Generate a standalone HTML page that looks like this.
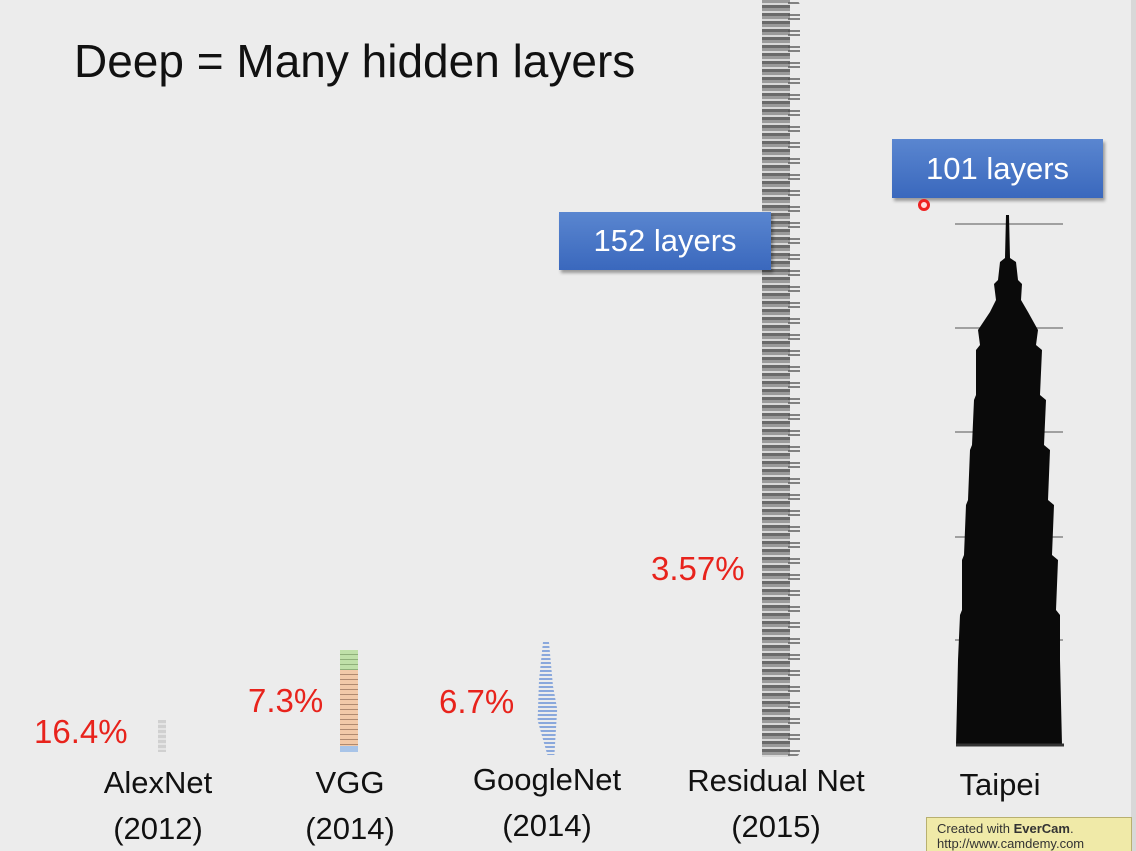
<!DOCTYPE html>
<html><head><meta charset="utf-8">
<style>
body{margin:0;}
#slide{position:relative;width:1136px;height:851px;background:#ececec;overflow:hidden;font-family:"Liberation Sans",sans-serif;}
.t{position:absolute;white-space:nowrap;}
.lbl{font-size:31px;color:#111;text-align:center;line-height:46px;}
.err{font-size:33px;color:#e8231c;}
.box{position:absolute;background:linear-gradient(#5a86d0,#3a68bd);color:#fff;font-size:31px;text-align:center;box-shadow:2px 3px 3px rgba(0,0,0,.35);}
</style></head>
<body>
<div id="slide">
  <div class="t" style="left:74px;top:34px;font-size:46px;color:#111;">Deep = Many hidden layers</div>

  <div style="position:absolute;left:1131px;top:0;width:5px;height:851px;background:#d8d8d8;"></div>

  <div class="t lbl" style="left:78px;top:760px;width:160px;">AlexNet<br>(2012)</div>
  <div class="t lbl" style="left:270px;top:760px;width:160px;">VGG<br>(2014)</div>
  <div class="t lbl" style="left:452px;top:757px;width:190px;">GoogleNet<br>(2014)</div>
  <div class="t lbl" style="left:666px;top:758px;width:220px;">Residual Net<br>(2015)</div>
  <div class="t lbl" style="left:930px;top:762px;width:140px;">Taipei</div>

  <div class="t err" style="left:34px;top:713px;">16.4%</div>
  <div class="t err" style="left:248px;top:682px;">7.3%</div>
  <div class="t err" style="left:439px;top:683px;">6.7%</div>
  <div class="t err" style="left:651px;top:550px;">3.57%</div>

  <div style="position:absolute;left:158px;top:720px;width:8px;height:32px;background:repeating-linear-gradient(#d0d0d0 0 3px,#e4e4e4 3px 5px);"></div>
  <div style="position:absolute;left:340px;top:650px;width:18px;height:102px;">
    <div style="height:20px;background:repeating-linear-gradient(#bfe0a8 0 4px,#8fb07a 4px 5px);"></div>
    <div style="height:76px;background:repeating-linear-gradient(#f2c9a8 0 4px,#b08a70 4px 5px);"></div>
    <div style="height:6px;background:#a8c4e8;"></div>
  </div>
  <div style="position:absolute;left:532px;top:640px;width:28px;height:115px;background:repeating-linear-gradient(transparent 0 2px,#8aa8dc 2px 4px);clip-path:polygon(40% 0,60% 0,75% 40%,90% 60%,80% 100%,55% 100%,20% 70%,25% 35%);"></div>

  <div style="position:absolute;left:762px;top:0;width:28px;height:757px;background:repeating-linear-gradient(#9a9a9a 0 3px,#d8d8d8 3px 5px,#6a6a6a 5px 8px);"></div>
  <div style="position:absolute;left:788px;top:0;width:12px;height:757px;background:repeating-linear-gradient(transparent 0 2px,#555 2px 4px,transparent 4px 14px,#555 14px 16px);border-radius:0 6px 6px 0;opacity:.7;"></div>

  <div class="box" style="left:559px;top:212px;width:212px;height:58px;line-height:58px;">152 layers</div>
  <div class="box" style="left:892px;top:139px;width:211px;height:59px;line-height:59px;">101 layers</div>
  <div style="position:absolute;left:918px;top:199px;width:6px;height:6px;border:3px solid #e22;border-radius:50%;background:#fdd;"></div>

  <svg style="position:absolute;left:0;top:0" width="1136" height="851">
    <g stroke="#a0a0a0" stroke-width="2">
      <line x1="955" y1="224" x2="1063" y2="224"/>
      <line x1="955" y1="328" x2="1063" y2="328"/>
      <line x1="955" y1="432" x2="1063" y2="432"/>
      <line x1="955" y1="537" x2="1063" y2="537"/>
      <line x1="955" y1="640" x2="1063" y2="640"/>
    </g>
    <polygon fill="#0a0a0a" points="1006,215 1009,215 1010,258 1016,262 1018,280 1022,284 1021,300 1028,312 1038,330 1036,345 1042,350 1040,395 1046,400 1044,445 1050,450 1048,500 1054,505 1052,555 1058,560 1056,610 1060,615 1060,660 1062,745 956,745 958,660 960,615 962,610 962,560 964,555 966,505 968,500 970,450 972,445 974,400 976,395 976,350 980,345 978,330 990,312 996,300 994,284 998,280 1000,262 1005,258"/>
    <line x1="956" y1="745" x2="1064" y2="745" stroke="#333" stroke-width="3"/>
  </svg>

  <div style="position:absolute;left:926px;top:817px;width:206px;height:40px;background:#f0eaa8;border:1px solid #b8b070;font-size:13px;color:#333;padding:3px 0 0 10px;box-sizing:border-box;line-height:15px;">Created with <b>EverCam</b>.<br>http://www.camdemy.com</div>
</div>
</body></html>
